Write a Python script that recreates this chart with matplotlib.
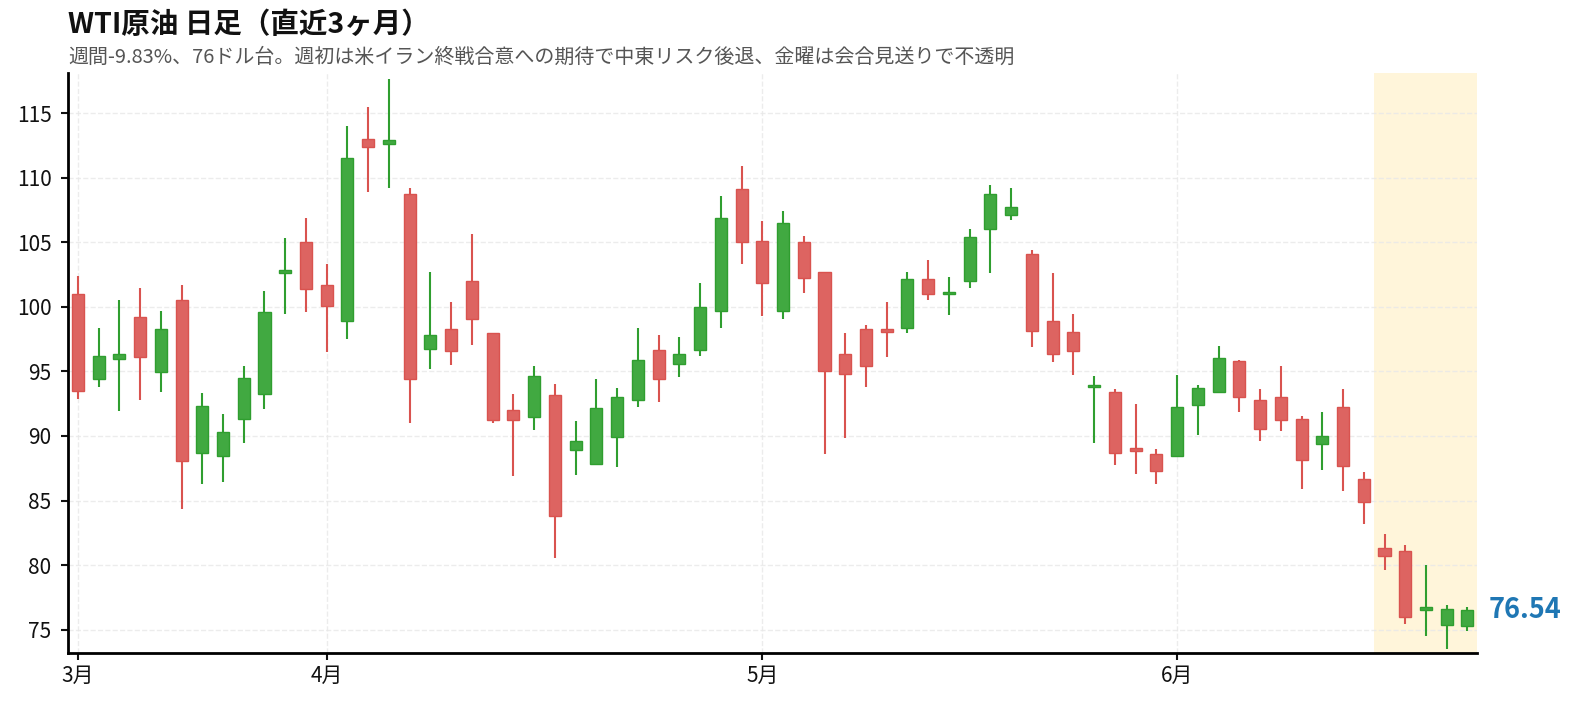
import matplotlib
matplotlib.use('Agg')
import matplotlib.pyplot as plt
import numpy as np
import pandas as pd

plt.rcParams['font.family'] = ['Noto Sans CJK JP', 'DejaVu Sans']

title = 'WTI原油 日足（直近3ヶ月）'
subtitle = '週間-9.83%、76ドル台。週初は米イラン終戦合意への期待で中東リスク後退、金曜は会合見送りで不透明'

start_date = '2026-03-16'
end_date = '2026-06-19'
holidays = ['2026-04-03', '2026-05-25']
last_week_start = '2026-06-15'

opens = [100.97, 94.38, 95.94, 99.18, 94.93, 100.56, 88.72, 88.43, 91.29, 93.23,
         102.58, 105.04, 101.69, 98.89, 113.01, 112.60, 108.76, 96.72, 98.25, 102.01,
         97.99, 92.01, 91.44, 93.20, 88.95, 87.80, 89.96, 92.82, 96.63, 95.54,
         96.63, 99.64, 109.08, 105.12, 99.64, 104.98, 102.73, 96.32, 98.25, 98.25,
         98.34, 102.18, 100.99, 102.03, 105.99, 107.09, 104.11, 98.92, 98.02, 93.80,
         93.37, 89.10, 88.58, 88.43, 92.36, 93.37, 95.77, 92.82, 93.00, 91.29,
         89.36, 92.27, 86.64, 81.36, 81.13, 76.51, 75.38, 75.32]
highs = [102.41, 98.34, 100.53, 101.46, 99.67, 101.69, 93.31, 91.70, 95.42, 101.23,
         105.33, 106.86, 103.30, 113.99, 115.46, 117.63, 109.20, 102.70, 100.36, 105.62,
         97.99, 93.26, 95.42, 94.01, 91.15, 94.41, 93.72, 98.34, 97.82, 97.65,
         101.83, 108.56, 110.90, 106.63, 107.41, 105.47, 102.73, 97.96, 98.60, 100.36,
         102.70, 103.62, 102.29, 106.02, 109.43, 109.20, 104.40, 102.61, 99.44, 94.64,
         93.63, 92.48, 88.98, 94.70, 93.92, 96.95, 95.88, 93.63, 95.42, 91.52,
         91.84, 93.63, 87.22, 82.40, 81.56, 80.00, 76.91, 76.77]
lows = [92.85, 93.78, 91.96, 92.77, 93.43, 84.33, 86.27, 86.44, 89.47, 92.10,
        99.46, 99.61, 96.52, 97.53, 108.91, 109.22, 91.03, 95.22, 95.51, 97.07,
        91.03, 86.93, 90.48, 80.58, 86.99, 87.80, 87.63, 92.27, 92.65, 94.58,
        96.20, 98.37, 103.33, 99.32, 99.09, 101.05, 88.64, 89.88, 93.80, 96.14,
        97.99, 100.56, 99.35, 101.49, 102.61, 106.74, 96.92, 95.74, 94.73, 89.42,
        87.77, 87.08, 86.27, 88.43, 90.11, 93.37, 91.87, 89.65, 90.40, 85.92,
        87.39, 85.78, 83.21, 79.66, 75.47, 74.54, 73.53, 74.92]
closes = [93.46, 96.23, 96.32, 96.09, 98.31, 88.03, 92.33, 90.34, 94.50, 99.61,
          102.87, 101.34, 100.04, 111.53, 112.34, 112.92, 94.38, 97.82, 96.55, 99.03,
          91.21, 91.21, 94.64, 83.78, 89.62, 92.13, 93.00, 95.85, 94.38, 96.35,
          99.96, 106.91, 104.98, 101.86, 106.45, 102.21, 95.02, 94.76, 95.39, 98.05,
          102.18, 100.97, 101.17, 105.44, 108.70, 107.75, 98.16, 96.32, 96.55, 93.89,
          88.66, 88.81, 87.28, 92.22, 93.75, 96.00, 93.00, 90.51, 91.21, 88.12,
          90.02, 87.65, 84.88, 80.69, 75.96, 76.80, 76.57, 76.54]

dates = pd.bdate_range(start_date, end_date, freq='C', holidays=holidays)
df = pd.DataFrame({'open': opens, 'high': highs, 'low': lows, 'close': closes}, index=dates)
n = len(df)
x = np.arange(n)

UP_FILL, UP_EDGE = '#41a941', '#2f9e2f'
DN_FILL, DN_EDGE = '#dd6461', '#d9534f'

fig = plt.figure(figsize=(15.77, 7.03), dpi=100)
ax = fig.add_axes([0.0433, 0.0711, 0.8933, 0.8251])

up = df['close'] >= df['open']
fills = np.where(up, UP_FILL, DN_FILL)
edges = np.where(up, UP_EDGE, DN_EDGE)

ax.vlines(x, df['low'], df['high'], colors=edges, linewidth=1.5, zorder=2)
bottom = np.minimum(df['open'], df['close'])
height = np.maximum(np.abs(df['close'] - df['open']), 0.12)
ax.bar(x, height, bottom=bottom, width=0.58, color=fills, edgecolor=edges,
       linewidth=1.0, zorder=3)

# last week shading
lw_idx = np.where(df.index >= pd.Timestamp(last_week_start))[0]
ax.axvspan(lw_idx[0] - 0.5, lw_idx[-1] + 0.5, color='#ffc107', alpha=0.15, lw=0, zorder=0)

ax.set_xlim(-0.46, n - 1 + 0.46)
ax.set_ylim(73.2, 118.1)
ax.set_yticks(np.arange(75, 116, 5))

# month ticks at first trading day of each month
months = df.index.month
first_idx = [i for i in range(n) if i == 0 or months[i] != months[i - 1]]
ax.set_xticks(first_idx)
ax.set_xticklabels([f'{df.index[i].month}月' for i in first_idx])

ax.grid(True, linestyle='--', color='#e8e8e8', linewidth=1.0, alpha=0.8, zorder=0)
ax.set_axisbelow(True)
for s in ['top', 'right']:
    ax.spines[s].set_visible(False)
for s in ['left', 'bottom']:
    ax.spines[s].set_linewidth(2.0)
ax.tick_params(axis='both', labelsize=15, width=1.5, length=5, colors='#111111')
ax.tick_params(axis='y', pad=7)

last_close = df['close'].iloc[-1]
ax.annotate(f'{last_close:.2f}', xy=(1.0, last_close), xycoords=('axes fraction', 'data'),
            xytext=(8, 0), textcoords='offset points', va='center', ha='left',
            fontsize=19.5, fontweight='bold', color='#1f77b4')

fig.text(0.0433, 0.965, title, fontsize=20.5, fontweight='bold', ha='left', va='center', color='#111111')
fig.text(0.0433, 0.918, subtitle, fontsize=14.4, ha='left', va='center', color='#555555')

fig.savefig('out.png', dpi=100)
